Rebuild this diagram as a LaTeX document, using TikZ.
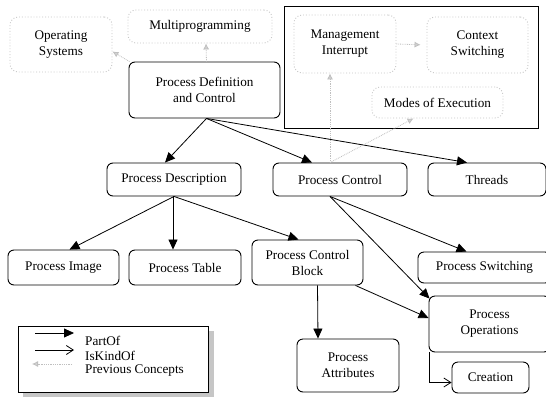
\documentclass[tikz,border=0pt]{standalone}
\usepackage{fontspec}
\setmainfont{Liberation Serif}
\usetikzlibrary{arrows.meta}
\begin{document}
\begin{tikzpicture}[x=1pt,y=-1pt,
  every node/.style={font=\fontsize{13.2}{16}\selectfont, align=center, inner sep=0pt},
  cbox/.style={draw=black, line width=0.9pt, rounded corners=6pt, minimum width=#1},
  pbox/.style={draw=gray!45, dotted, line width=0.9pt, rounded corners=8pt, minimum width=#1},
  partof/.style={draw=black, line width=0.8pt, -{Triangle[length=10pt,width=9pt]}},
  kindof/.style={draw=black, line width=0.8pt, -{Straight Barb[length=7pt,width=9pt]}},
  prevc/.style={draw=gray!50, densely dotted, line width=0.8pt, -{Latex[length=6pt,width=6pt,fill=gray!35]}}
]
\useasboundingbox (0,0) rectangle (546,397);
\fill[white] (0,0) rectangle (546,397);

% group frame
\draw[line width=1pt] (284,6) rectangle (538,128);

% previous concepts
\node[pbox=102pt, minimum height=55pt] (os) at (61,44.5) {Operating\\Systems};
\node[pbox=144pt, minimum height=33pt] (mu) at (200,26.5) {Multiprogramming};
\node[pbox=102pt, minimum height=58pt] (mi) at (345,44) {Management\\Interrupt};
\node[pbox=101pt, minimum height=56pt] (cs) at (477.5,45) {Context\\Switching};
\node[pbox=131pt, minimum height=31pt] (mo) at (437.5,102.5) {Modes of Execution};

% concepts
\node[cbox=151pt, minimum height=56pt] (pdc) at (204.5,90) {Process Definition\\and Control};
\node[cbox=134pt, minimum height=33pt] (pd) at (174,179.5) {Process Description};
\node[cbox=134pt, minimum height=33pt] (pc) at (340,179.5) {Process Control};
\node[cbox=118pt, minimum height=33pt] (th) at (487,179.5) {Threads};
\node[cbox=111pt, minimum height=35pt] (pi) at (63.5,267.5) {Process Image};
\node[cbox=112pt, minimum height=35pt] (pt) at (185,267.5) {Process Table};
\node[cbox=111pt, minimum height=45pt] (pcb) at (307.5,262.5) {Process Control\\Block};
\node[cbox=133pt, minimum height=31pt] (ps) at (484.5,267.5) {Process Switching};
\node[cbox=121pt, minimum height=56pt] (po) at (489.5,324) {Process\\Operations};
\node[cbox=102pt, minimum height=53pt] (pa) at (348,365.5) {Process\\Attributes};
\node[cbox=77pt, minimum height=31pt] (cr) at (490.5,377.5) {Creation};

% PartOf
\draw[partof] ([xshift=2pt]pdc.south) -- ([xshift=-9pt]pd.north);
\draw[partof] ([xshift=2pt]pdc.south) -- ([xshift=-28pt]pc.north);
\draw[partof] ([xshift=2pt]pdc.south) -- ([xshift=-20pt]th.north);
\draw[partof] (pd.south) -- ([xshift=6pt]pi.north);
\draw[partof] ([xshift=-1pt]pd.south) -- ([xshift=-12pt]pt.north);
\draw[partof] (pd.south) -- ([xshift=-9pt]pcb.north);
\draw[partof] ([xshift=-10pt]pc.south) -- ([xshift=-18pt]ps.north);
\draw[partof] ([xshift=-10pt]pc.south) -- ([xshift=1pt,yshift=-3pt]po.north west);
\draw[partof] ([xshift=-8pt]pcb.south east) -- ([yshift=6pt]po.west);
\draw[partof] ([xshift=10pt]pcb.south) -- ([xshift=-30pt]pa.north);

% IsKindOf
\draw[kindof] ([xshift=1pt]po.south west) |- ([yshift=-5pt]cr.west);

% Previous concepts
\draw[prevc] ([xshift=2pt]pdc.north) -- ([xshift=6pt]mu.south);
\draw[prevc] ([xshift=1pt]pdc.north west) -- ([yshift=-7pt]os.east);
\draw[prevc] ([xshift=-10pt]pc.north) -- ([xshift=-15pt]mi.south);
\draw[prevc] ([xshift=-10pt]pc.north) -- ([xshift=-24pt]mo.south);
\draw[prevc, shorten >=6pt] (mi.east) -- (cs.west);

% legend
\fill[gray!45] (23,331) rectangle (214,397);
\draw[line width=1pt, fill=white] (18,326) rectangle (208,392);
\coordinate (l1a) at (35,333); \coordinate (l1b) at (74,333);
\coordinate (l2a) at (35,350); \coordinate (l2b) at (74,350);
\coordinate (l3a) at (72,364); \coordinate (l3b) at (32,364);
\draw[partof] (l1a) -- (l1b);
\draw[kindof] (l2a) -- (l2b);
\draw[prevc] (l3a) -- (l3b);
\node[anchor=west] (lt1) at (85,341) {PartOf};
\node[anchor=west] (lt2) at (85,356) {IsKindOf};
\node[anchor=west] (lt3) at (85,371) {Previous Concepts};
\end{tikzpicture}
\end{document}
